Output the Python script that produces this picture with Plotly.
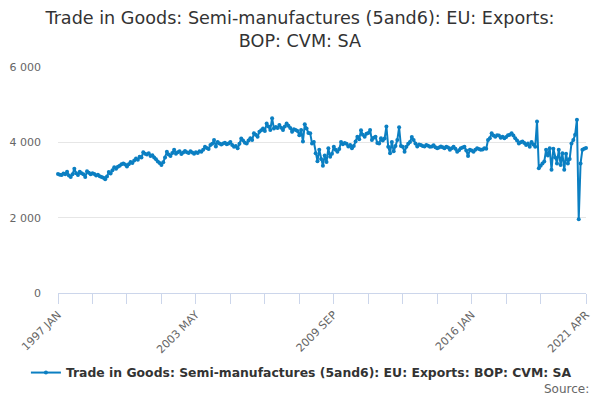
import plotly.graph_objects as go

MONTHS = ["JAN", "FEB", "MAR", "APR", "MAY", "JUN", "JUL", "AUG", "SEP", "OCT", "NOV", "DEC"]
start_year = 1997

v1997 = [3160, 3140, 3130, 3170, 3150, 3220, 3120, 3080, 3150, 3300, 3180, 3130]
v1998 = [3220, 3180, 3150, 3080, 3230, 3190, 3150, 3180, 3160, 3120, 3140, 3100]
v1999 = [3080, 3060, 3020, 3090, 3210, 3170, 3260, 3340, 3300, 3350, 3380, 3420]
v2000 = [3440, 3410, 3360, 3420, 3480, 3450, 3520, 3570, 3540, 3620, 3600, 3740]
v2001 = [3700, 3680, 3710, 3640, 3660, 3600, 3550, 3490, 3450, 3400, 3470, 3600]
v2002 = [3750, 3680, 3640, 3720, 3800, 3700, 3740, 3760, 3690, 3730, 3770, 3740]
v2003 = [3720, 3760, 3730, 3700, 3740, 3720, 3760, 3750, 3800, 3880, 3850, 3820]
v2004 = [3930, 3960, 4060, 3890, 4010, 3970, 3940, 3970, 3990, 3950, 3970, 4010]
v2005 = [3930, 3880, 3900, 3840, 3960, 4100, 4050, 3990, 3970, 4050, 4110, 4060]
v2006 = [4240, 4200, 4150, 4280, 4320, 4370, 4300, 4500, 4420, 4330, 4640, 4370]
v2007 = [4410, 4380, 4460, 4390, 4330, 4420, 4500, 4440, 4380, 4280, 4350, 4330]
v2008 = [4300, 4190, 4330, 4020, 4480, 4370, 4250, 4240, 3970, 4010, 3710, 3500]
v2009 = [3800, 3560, 3380, 3650, 3480, 3840, 3620, 3700, 3880, 3800, 3750, 3820]
v2010 = [4010, 3950, 3980, 3960, 3890, 3930, 3840, 3900, 4020, 4150, 4080, 4320]
v2011 = [4200, 4150, 4230, 4250, 4330, 4060, 4120, 4150, 3980, 3970, 4110, 4050]
v2012 = [4100, 4420, 3880, 3710, 4010, 3760, 3900, 4060, 4400, 3900, 3880, 3750]
v2013 = [3880, 3960, 4010, 4140, 4060, 3970, 3890, 3940, 3930, 3900, 3890, 3930]
v2014 = [3910, 3880, 3890, 3920, 3870, 3840, 3860, 3890, 3870, 3840, 3880, 3860]
v2015 = [3800, 3840, 3880, 3830, 3750, 3790, 3840, 3860, 3880, 3780, 3640, 3800]
v2016 = [3780, 3750, 3800, 3840, 3820, 3800, 3810, 3840, 3830, 4060, 4110, 4240]
v2017 = [4180, 4150, 4190, 4180, 4120, 4150, 4110, 4140, 4190, 4200, 4240, 4180]
v2018 = [4110, 4050, 3970, 4000, 4020, 3980, 3930, 3970, 3880, 4010, 3940, 3880]
v2019 = [4550, 3310, 3380, 3440, 3490, 3800, 3650, 3840, 3270, 3830, 3600, 3440]
v2020 = [3800, 3400, 3710, 3270, 3700, 3440, 3560, 3970, 4060, 4200, 4600, 1960]
v2021 = [3440, 3800, 3830, 3850]

yearly = [v1997, v1998, v1999, v2000, v2001, v2002, v2003, v2004, v2005, v2006, v2007, v2008,
          v2009, v2010, v2011, v2012, v2013, v2014, v2015, v2016, v2017, v2018, v2019, v2020, v2021]

labels = []
values = []
for i, yv in enumerate(yearly):
    for j, v in enumerate(yv):
        labels.append(f"{start_year + i} {MONTHS[j]}")
        values.append(v)

n = len(labels)
tick_idx = list(range(0, n - 20, 19)) + [n - 1]
shown = {"1997 JAN", "2003 MAY", "2009 SEP", "2016 JAN", "2021 APR"}
tickvals = [labels[i] for i in tick_idx]
ticktext = [labels[i] if labels[i] in shown else "" for i in tick_idx]

y_ticks = [0, 2000, 4000, 6000]
y_text = ["0", "2 000", "4 000", "6 000"]

series_name = "Trade in Goods: Semi-manufactures (5and6): EU: Exports: BOP: CVM: SA"
color = "#0b7fc2"
FONT = "DejaVu Sans"

fig = go.Figure()
fig.add_trace(go.Scatter(
    x=labels, y=values, mode="lines+markers", name=series_name,
    line=dict(color=color, width=2),
    marker=dict(color=color, size=4),
    cliponaxis=False, hoverinfo="skip",
))

fig.update_layout(
    width=600, height=400,
    margin=dict(l=58, r=14, t=67, b=107, autoexpand=False),
    paper_bgcolor="white", plot_bgcolor="white",
    font=dict(family=FONT, color="#333333"),
    title=dict(
        text="Trade in Goods: Semi-manufactures (5and6): EU: Exports:<br>BOP: CVM: SA",
        x=0.5, xanchor="center", y=0.94, yanchor="middle", yref="container",
        font=dict(family=FONT, size=17.6, color="#333333"),
    ),
    showlegend=True,
    legend=dict(
        orientation="h", x=0.461, xanchor="center", y=-0.354, yanchor="middle",
        font=dict(family=FONT, size=12.4, color="#333333", weight="bold"),
        itemwidth=30,
    ),
    xaxis=dict(
        type="category", range=[0, n - 1],
        tickmode="array", tickvals=tickvals, ticktext=ticktext,
        tickangle=-45, ticks="outside", ticklen=10, tickcolor="#ccd6eb", tickwidth=1,
        showline=True, linecolor="#ccd6eb", linewidth=1,
        showgrid=False, zeroline=False,
        tickfont=dict(family=FONT, size=11, color="#666666"),
    ),
    yaxis=dict(
        range=[0, 6000], tickmode="array", tickvals=y_ticks, ticktext=y_text,
        showgrid=True, gridcolor="#e6e6e6", gridwidth=1, zeroline=False,
        showline=False, ticks="",
        tickfont=dict(family=FONT, size=11, color="#666666"),
        ticklabelstandoff=16,
    ),
    annotations=[dict(
        text="Source:", xref="paper", yref="paper", x=1, y=-0.425,
        xanchor="right", yanchor="middle", xshift=5, showarrow=False,
        font=dict(family=FONT, size=12, color="#666666"),
    )],
)

fig.write_html("out.html", config={"displayModeBar": False},
               post_script="document.body.style.margin='0';")
